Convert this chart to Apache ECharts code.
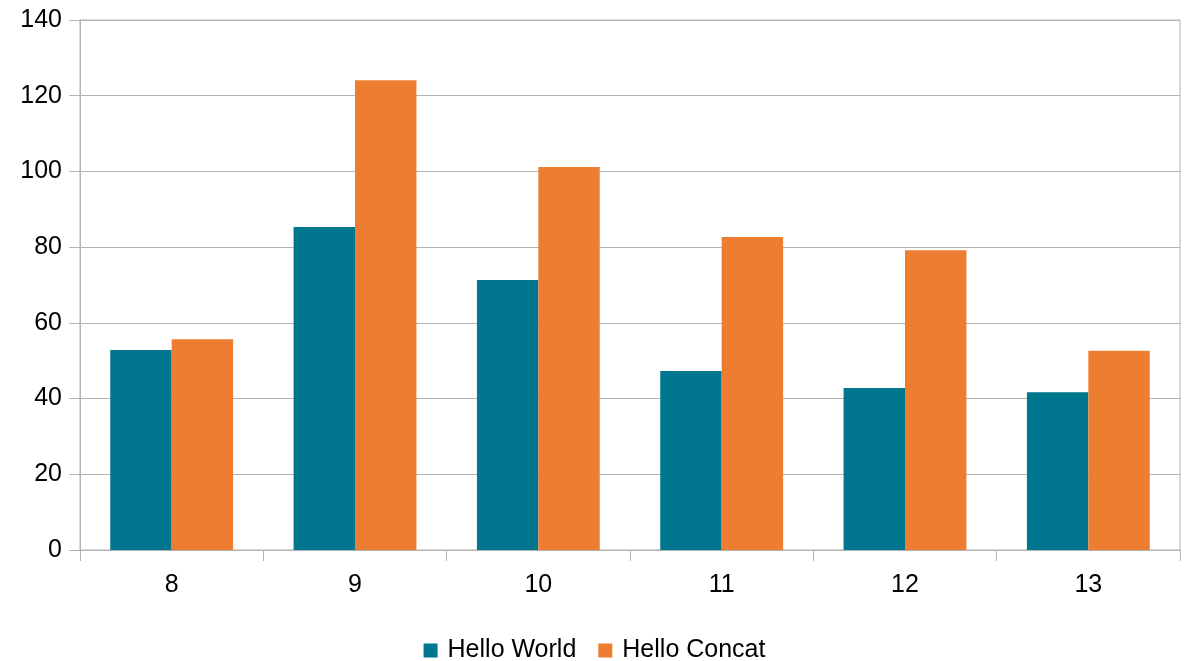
<!DOCTYPE html>
<html>
<head>
<meta charset="utf-8">
<script src="https://cdn.jsdelivr.net/npm/echarts@6/dist/echarts.min.js"></script>
<style>
  html, body { margin: 0; padding: 0; background: #fff; }
  #chart { width: 1189px; height: 661px; }
</style>
</head>
<body>
<div id="chart"></div>
<script>
// Categories and series values
const categories = ['8', '9', '10', '11', '12', '13'];
const helloWorld = [52.8, 85.3, 71.3, 47.3, 42.8, 41.7];
const helloConcat = [55.7, 124.1, 101.2, 82.7, 79.2, 52.6];

const axisGray = '#b3b3b3';
const textColor = '#000';
const font = '"Liberation Sans", Arial, sans-serif';
const fontSize = 25;

const chart = echarts.init(document.getElementById('chart'), null, { renderer: 'canvas' });
chart.setOption({
  animation: false,
  backgroundColor: '#fff',
  textStyle: { fontFamily: font },
  grid: {
    left: 80, right: 9, top: 20, bottom: 111,
    show: true, borderColor: axisGray, borderWidth: 1, backgroundColor: 'transparent'
  },
  legend: {
    top: 633,
    left: 'center',
    icon: 'rect',
    itemWidth: 14,
    itemHeight: 14,
    itemGap: 22,
    textStyle: { fontSize: fontSize, color: textColor, fontFamily: font, padding: [0, 0, 0, 5] },
    data: ['Hello World', 'Hello Concat']
  },
  xAxis: {
    type: 'category',
    data: categories,
    boundaryGap: true,
    axisLine: { show: true, lineStyle: { color: axisGray } },
    axisTick: { show: true, length: 11, alignWithLabel: false, lineStyle: { color: axisGray } },
    axisLabel: { fontSize: fontSize, color: textColor, margin: 23, fontFamily: font }
  },
  yAxis: {
    type: 'value',
    min: 0, max: 140, interval: 20,
    axisLine: { show: true, lineStyle: { color: axisGray } },
    axisTick: { show: true, length: 11, lineStyle: { color: axisGray } },
    axisLabel: { fontSize: fontSize, color: textColor, margin: 18, fontFamily: font },
    splitLine: { show: true, lineStyle: { color: axisGray } }
  },
  series: [
    {
      name: 'Hello World', type: 'bar', data: helloWorld,
      itemStyle: { color: '#00778f' },
      barGap: '0%', barCategoryGap: '33%'
    },
    {
      name: 'Hello Concat', type: 'bar', data: helloConcat,
      itemStyle: { color: '#ed7d31' },
      barGap: '0%', barCategoryGap: '33%'
    }
  ]
});
</script>
</body>
</html>
